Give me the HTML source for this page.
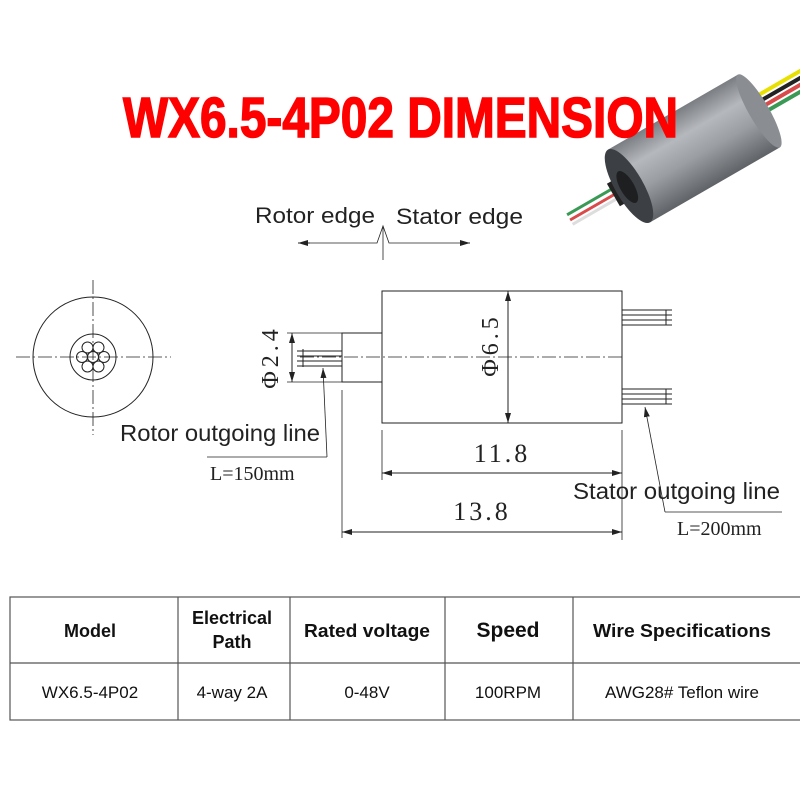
<!DOCTYPE html>
<html><head><meta charset="utf-8"><style>
body{margin:0;background:#fff;width:800px;height:800px;overflow:hidden}
svg{display:block}
</style></head><body>
<svg width="800" height="800" viewBox="0 0 800 800" xmlns="http://www.w3.org/2000/svg">
<defs>
<linearGradient id="metal" x1="0" y1="0" x2="0" y2="1">
<stop offset="0" stop-color="#7a7d82"/><stop offset="0.3" stop-color="#b5b8bc"/><stop offset="0.6" stop-color="#9a9da1"/><stop offset="1" stop-color="#5f6266"/>
</linearGradient>
<marker id="ar" viewBox="0 0 10 6" refX="10" refY="3" markerWidth="10" markerHeight="6" orient="auto-start-reverse" markerUnits="userSpaceOnUse"><path d="M0,0 L10,3 L0,6 z" fill="#222"/></marker>
</defs>

<!-- photo -->
<g transform="translate(700,145) rotate(-30)">
<path d="M60,-14 L140,-14" stroke="#e8e000" stroke-width="4"/>
<path d="M60,-8 L140,-8" stroke="#222" stroke-width="4"/>
<path d="M60,-2 L140,-2" stroke="#d94a4a" stroke-width="4"/>
<path d="M60,4 L140,4" stroke="#3a9a55" stroke-width="4"/>
<path d="M-150,-6 L-80,-6" stroke="#3a9a55" stroke-width="3"/>
<path d="M-150,0 L-80,0" stroke="#d94a4a" stroke-width="3"/>
<path d="M-150,5 L-80,5" stroke="#ddd" stroke-width="3"/>
<rect x="-100" y="-13" width="28" height="26" fill="#222"/>
<rect x="-82" y="-42" width="150" height="84" fill="url(#metal)"/>
<ellipse cx="68" cy="0" rx="10" ry="42" fill="#8a8d91"/>
<ellipse cx="-82" cy="0" rx="14" ry="42" fill="#3c3f43"/>
<ellipse cx="-84" cy="0" rx="7" ry="18" fill="#1e1f21"/>
</g>

<!-- title -->
<text x="123" y="137" font-family="Liberation Sans, sans-serif" font-weight="bold" font-size="57" fill="#ff0000" stroke="#ff0000" stroke-width="1.5" textLength="555" lengthAdjust="spacingAndGlyphs">WX6.5-4P02 DIMENSION</text>

<g font-family="Liberation Sans, sans-serif" font-size="22" fill="#222">
<text x="255" y="223" textLength="120" lengthAdjust="spacingAndGlyphs">Rotor edge</text>
<text x="396" y="224" textLength="127" lengthAdjust="spacingAndGlyphs">Stator edge</text>
<text x="120" y="441" font-size="23" textLength="200" lengthAdjust="spacingAndGlyphs">Rotor outgoing line</text>
<text x="573" y="499" font-size="23" textLength="207" lengthAdjust="spacingAndGlyphs">Stator outgoing line</text>
</g>
<g font-family="Liberation Serif, serif" fill="#222">
<text x="210" y="480" font-size="20">L=150mm</text>
<text x="677" y="535" font-size="20">L=200mm</text>
<text x="502" y="462" font-size="26" text-anchor="middle" letter-spacing="3">11.8</text>
<text x="482" y="520" font-size="26" text-anchor="middle" letter-spacing="3">13.8</text>
<text transform="translate(278,357) rotate(-90)" font-size="24" text-anchor="middle" letter-spacing="4">Φ2.4</text>
<text transform="translate(498,345) rotate(-90)" font-size="24" text-anchor="middle" letter-spacing="4">Φ6.5</text>
</g>

<g stroke="#222" stroke-width="1" fill="none">
<circle cx="93" cy="357" r="60"/>
<circle cx="93" cy="357" r="23"/>
<circle cx="93" cy="357" r="5.5"/>
<circle cx="104" cy="357" r="5.5"/>
<circle cx="82" cy="357" r="5.5"/>
<circle cx="87.5" cy="347.5" r="5.5"/>
<circle cx="98.5" cy="347.5" r="5.5"/>
<circle cx="87.5" cy="366.5" r="5.5"/>
<circle cx="98.5" cy="366.5" r="5.5"/>
<line x1="16" y1="357" x2="171" y2="357" stroke-dasharray="14,3,2,3" stroke-width="0.8"/>
<line x1="93" y1="280" x2="93" y2="435" stroke-dasharray="14,3,2,3" stroke-width="0.8"/>

<polyline points="298,243 377,243 383,226 389,243 470,243" stroke-width="0.8"/>
<line x1="298" y1="243" x2="310" y2="243" marker-start="url(#ar)"/>
<line x1="460" y1="243" x2="470" y2="243" marker-end="url(#ar)"/>
<line x1="383" y1="226" x2="383" y2="260" stroke-width="0.8"/>

<rect x="382" y="291" width="240" height="132"/>
<rect x="342" y="333" width="40" height="49"/>
<line x1="300" y1="357" x2="622" y2="357" stroke-dasharray="14,3,2,3" stroke-width="0.8"/>
<line x1="297" y1="351" x2="342" y2="351"/>
<line x1="297" y1="356" x2="342" y2="356"/>
<line x1="297" y1="361" x2="342" y2="361"/>
<line x1="297" y1="366" x2="342" y2="366"/>
<line x1="303" y1="349" x2="303" y2="367"/>
<line x1="622" y1="310" x2="672" y2="310"/>
<line x1="622" y1="315" x2="672" y2="315"/>
<line x1="622" y1="320" x2="672" y2="320"/>
<line x1="622" y1="325" x2="672" y2="325"/>
<line x1="666" y1="310" x2="666" y2="325"/>
<line x1="622" y1="389" x2="672" y2="389"/>
<line x1="622" y1="394" x2="672" y2="394"/>
<line x1="622" y1="399" x2="672" y2="399"/>
<line x1="622" y1="404" x2="672" y2="404"/>
<line x1="666" y1="389" x2="666" y2="404"/>

<line x1="287" y1="333" x2="342" y2="333" stroke-width="0.8"/>
<line x1="287" y1="382" x2="342" y2="382" stroke-width="0.8"/>
<line x1="292" y1="333" x2="292" y2="382" marker-start="url(#ar)" marker-end="url(#ar)"/>
<line x1="508" y1="291" x2="508" y2="423" marker-start="url(#ar)" marker-end="url(#ar)"/>
<line x1="382" y1="430" x2="382" y2="480" stroke-width="0.8"/>
<line x1="622" y1="430" x2="622" y2="540" stroke-width="0.8"/>
<line x1="382" y1="473" x2="622" y2="473" marker-start="url(#ar)" marker-end="url(#ar)"/>
<line x1="342" y1="390" x2="342" y2="538" stroke-width="0.8"/>
<line x1="342" y1="532" x2="622" y2="532" marker-start="url(#ar)" marker-end="url(#ar)"/>
<polyline points="327,457 323,368" marker-end="url(#ar)" stroke-width="0.8"/>
<line x1="207" y1="457" x2="327" y2="457" stroke-width="0.8"/>
<polyline points="665,512 645,407" marker-end="url(#ar)" stroke-width="0.8"/>
<line x1="665" y1="512" x2="782" y2="512" stroke-width="0.8"/>
</g>

<g stroke="#555" stroke-width="1.2" fill="none">
<rect x="10" y="597" width="800" height="123"/>
<line x1="10" y1="663" x2="800" y2="663"/>
<line x1="178" y1="597" x2="178" y2="720"/>
<line x1="290" y1="597" x2="290" y2="720"/>
<line x1="445" y1="597" x2="445" y2="720"/>
<line x1="573" y1="597" x2="573" y2="720"/>
</g>
<g font-family="Liberation Sans, sans-serif" fill="#111" text-anchor="middle">
<g font-weight="bold" font-size="18">
<text x="90" y="637">Model</text>
<text x="232" y="624">Electrical</text>
<text x="232" y="648">Path</text>
<text x="367" y="637" font-size="18" textLength="126" lengthAdjust="spacingAndGlyphs">Rated voltage</text>
<text x="508" y="637" font-size="21">Speed</text>
<text x="682" y="637" font-size="18" textLength="178" lengthAdjust="spacingAndGlyphs">Wire Specifications</text>
</g>
<g font-size="17">
<text x="90" y="698">WX6.5-4P02</text>
<text x="232" y="698">4-way 2A</text>
<text x="367" y="698">0-48V</text>
<text x="508" y="698">100RPM</text>
<text x="682" y="698">AWG28# Teflon wire</text>
</g>
</g>
</svg>
</body></html>
